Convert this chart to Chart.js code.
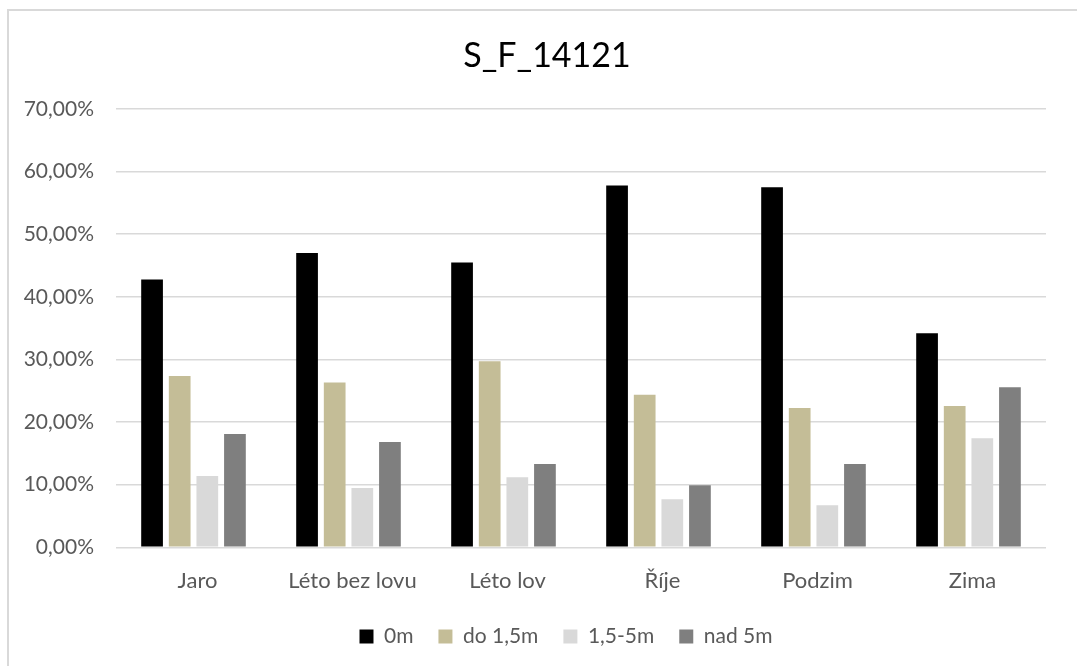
<!DOCTYPE html>
<html>
<head>
<meta charset="utf-8">
<script src="https://cdn.jsdelivr.net/npm/chart.js@4.4.1/dist/chart.umd.min.js"></script>
<style>
  html, body { margin: 0; padding: 0; background: #ffffff; overflow: hidden; }
  #frame {
    position: absolute; left: 7px; top: 9px; width: 1090px; height: 680px;
    border: 2px solid #d9d9d9; box-sizing: border-box;
  }
  #wrap { position: absolute; left: 0; top: 0; width: 1077px; height: 666px; }
</style>
</head>
<body>
<div id="frame"></div>
<div id="wrap"><canvas id="chart" width="1077" height="666"></canvas></div>
<script>
// Seasons (categories)
const categories = ['Jaro', 'Léto bez lovu', 'Léto lov', 'Říje', 'Podzim', 'Zima'];

// Share of locations per height class, in percent
const zeroM      = [42.77, 47.00, 45.48, 57.77, 57.50, 34.20];
const upTo15m    = [27.34, 26.33, 29.73, 24.36, 22.23, 22.55];
const from15to5m = [11.38,  9.46, 11.17,  7.66,  6.70, 17.40];
const over5m     = [18.08, 16.80, 13.29,  9.90, 13.29, 25.58];

const seriesNames = ['0m', 'do 1,5m', '1,5-5m', 'nad 5m'];
const yTicks = [0, 10, 20, 30, 40, 50, 60, 70];

const colors = ['#000000', '#c4bd97', '#d9d9d9', '#7f7f7f'];
const fontFamily = 'Lato, "Open Sans", sans-serif';

const pct = v => v.toFixed(2).replace('.', ',') + '%';

// Centre the title over the whole frame and move the legend row to the right
const blockShift = {
  id: 'blockShift',
  afterLayout(chart) {
    const t = chart.titleBlock;
    if (t) { t.left += 24; t.right += 24; }
    const lg = chart.legend;
    if (lg) { lg.left += 43; lg.right += 43; }
  }
};

new Chart(document.getElementById('chart'), {
  type: 'bar',
  data: {
    labels: categories,
    datasets: [zeroM, upTo15m, from15to5m, over5m].map((d, i) => ({
      label: seriesNames[i],
      data: d,
      backgroundColor: colors[i],
      borderWidth: 0,
      categoryPercentage: 0.713,
      barPercentage: 0.786
    }))
  },
  plugins: [blockShift],
  options: {
    responsive: false,
    animation: false,
    layout: { padding: { left: 0, right: 31, top: 0, bottom: 9 } },
    plugins: {
      title: {
        display: true,
        text: 'S_F_14121',
        color: '#000000',
        font: { family: fontFamily, size: 34, weight: 'normal' },
        padding: { top: 35.6, bottom: 32.6 }
      },
      legend: {
        position: 'bottom',
        labels: {
          boxWidth: 14, boxHeight: 14, padding: 25,
          color: '#595959',
          font: { family: fontFamily, size: 21 }
        }
      },
      tooltip: { enabled: false }
    },
    scales: {
      x: {
        grid: { display: false, drawTicks: false },
        border: { display: false },
        ticks: { color: '#595959', font: { family: fontFamily, size: 22 }, padding: 20, labelOffset: 4 },
        afterFit: s => { s.height = 53.7; }
      },
      y: {
        min: 0, max: 70,
        afterBuildTicks: s => { s.ticks = yTicks.map(v => ({ value: v })); },
        grid: { color: '#d9d9d9', lineWidth: 1.5, drawTicks: false },
        border: { display: false },
        ticks: { color: '#595959', font: { family: fontFamily, size: 21 }, padding: 22, callback: v => pct(v) },
        afterFit: s => { s.width = 116; }
      }
    }
  }
});
</script>
</body>
</html>
